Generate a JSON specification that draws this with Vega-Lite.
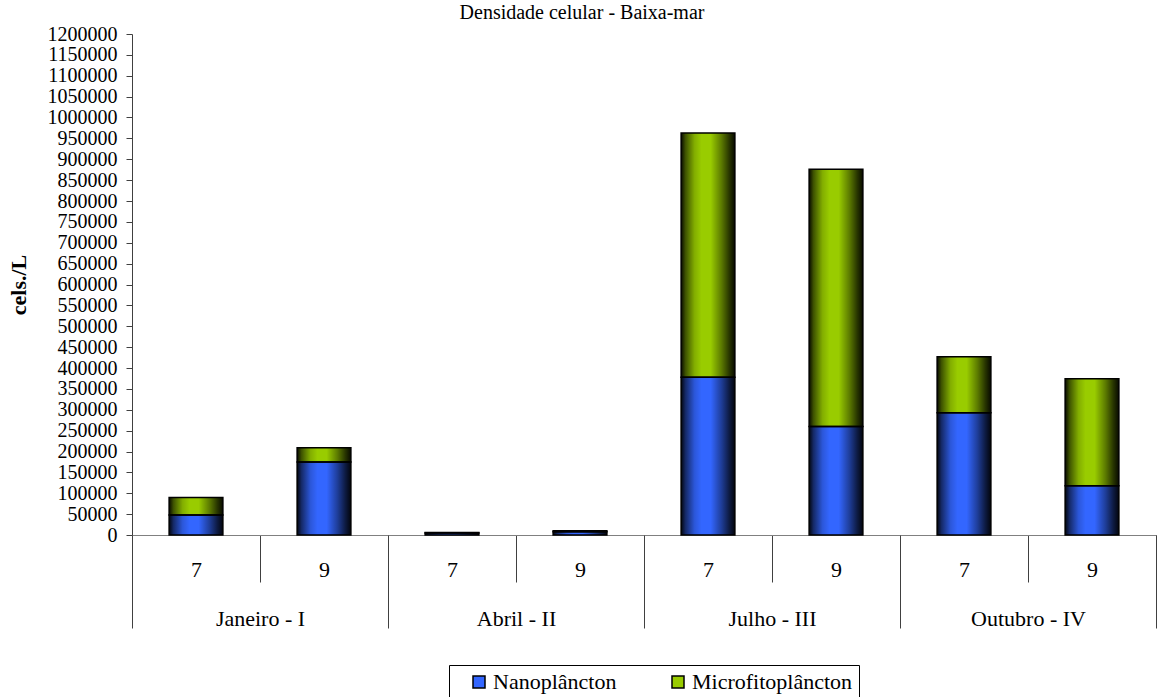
{
  "$schema": "https://vega.github.io/schema/vega-lite/v6.json",
  "width": 1024,
  "height": 501,
  "autosize": {"type": "none"},
  "padding": {"left": 132, "top": 34, "right": 1, "bottom": 162},
  "background": "white",
  "config": {
    "font": "Times New Roman, Liberation Serif, serif",
    "view": {"stroke": null},
    "axis": {"labelFont": "Times New Roman, Liberation Serif, serif", "titleFont": "Times New Roman, Liberation Serif, serif", "labelColor": "black", "titleColor": "black", "grid": false},
    "legend": {"labelFont": "Times New Roman, Liberation Serif, serif", "titleFont": "Times New Roman, Liberation Serif, serif", "labelColor": "black"}
  },
  "title": {"text": "Densidade celular - Baixa-mar", "font": "Times New Roman, Liberation Serif, serif", "fontSize": 20, "fontWeight": "normal", "color": "black", "dx": -62, "offset": 1},
  "data": {
    "values": [
      {"key": "Janeiro - I/7", "month": "Janeiro - I", "series": "Nanoplâncton", "value": 48000},
      {"key": "Janeiro - I/7", "month": "Janeiro - I", "series": "Microfitoplâncton", "value": 42000},
      {"key": "Janeiro - I/9", "month": "Janeiro - I", "series": "Nanoplâncton", "value": 175000},
      {"key": "Janeiro - I/9", "month": "Janeiro - I", "series": "Microfitoplâncton", "value": 34000},
      {"key": "Abril - II/7", "month": "Abril - II", "series": "Nanoplâncton", "value": 5000},
      {"key": "Abril - II/7", "month": "Abril - II", "series": "Microfitoplâncton", "value": 1000},
      {"key": "Abril - II/9", "month": "Abril - II", "series": "Nanoplâncton", "value": 8000},
      {"key": "Abril - II/9", "month": "Abril - II", "series": "Microfitoplâncton", "value": 2000},
      {"key": "Julho - III/7", "month": "Julho - III", "series": "Nanoplâncton", "value": 378000},
      {"key": "Julho - III/7", "month": "Julho - III", "series": "Microfitoplâncton", "value": 585000},
      {"key": "Julho - III/9", "month": "Julho - III", "series": "Nanoplâncton", "value": 260000},
      {"key": "Julho - III/9", "month": "Julho - III", "series": "Microfitoplâncton", "value": 616000},
      {"key": "Outubro - IV/7", "month": "Outubro - IV", "series": "Nanoplâncton", "value": 293000},
      {"key": "Outubro - IV/7", "month": "Outubro - IV", "series": "Microfitoplâncton", "value": 134000},
      {"key": "Outubro - IV/9", "month": "Outubro - IV", "series": "Nanoplâncton", "value": 118000},
      {"key": "Outubro - IV/9", "month": "Outubro - IV", "series": "Microfitoplâncton", "value": 256000}
    ]
  },
  "layer": [
    {
      "encoding": {
        "x": {
          "field": "key", "type": "nominal", "sort": null,
          "scale": {"paddingInner": 0, "paddingOuter": 0},
          "axis": {
            "title": null,
            "labelExpr": "split(datum.value, '/')[1]",
            "tickBand": "extent",
            "tickSize": 47,
            "labelFontSize": 22,
            "labelPadding": -13,
            "labelBaseline": "middle",
            "labelAngle": 0,
            "labelOverlap": false,
            "domainColor": "#808080",
            "tickColor": "#404040"
          }
        },
        "y": {
          "field": "value", "type": "quantitative", "stack": "zero",
          "scale": {"domain": [0, 1200000], "nice": false},
          "axis": {
            "title": "cels./L",
            "values": [0, 50000, 100000, 150000, 200000, 250000, 300000, 350000, 400000, 450000, 500000, 550000, 600000, 650000, 700000, 750000, 800000, 850000, 900000, 950000, 1000000, 1050000, 1100000, 1150000, 1200000],
            "format": "d",
            "labelFontSize": 20,
            "labelOverlap": false,
            "tickSize": 6,
            "labelPadding": 9,
            "titleFontSize": 22,
            "titleFontWeight": "bold",
            "titlePadding": 17,
            "domainColor": "#404040",
            "tickColor": "#404040"
          }
        },
        "order": {"field": "series", "sort": "descending"}
      },
      "layer": [
        {
          "mark": {"type": "bar", "width": {"band": 0.42}},
          "encoding": {
            "color": {
              "field": "series", "type": "nominal",
              "scale": {"domain": ["Nanoplâncton", "Microfitoplâncton"], "range": ["#3366FF", "#99CC00"]},
              "legend": {
                "title": " ",
                "titleOrient": "left",
                "titleFontSize": 20,
                "titlePadding": 13,
                "orient": "none",
                "legendX": 317,
                "legendY": 631,
                "direction": "horizontal",
                "labelFontSize": 22,
                "labelLimit": 400,
                "symbolType": "square",
                "symbolSize": 144,
                "symbolStrokeColor": "black",
                "symbolStrokeWidth": 1.5,
                "symbolOpacity": 1,
                "strokeColor": "black",
                "fillColor": "white",
                "padding": 6,
                "columnPadding": 50,
                "labelOffset": 3
              }
            }
          }
        },
        {
          "mark": {
            "type": "bar",
            "width": {"band": 0.42},
            "stroke": "black",
            "strokeWidth": 1.5,
            "fill": {
              "gradient": "linear", "x1": 0, "y1": 0, "x2": 1, "y2": 0,
              "stops": [
                {"offset": 0, "color": "rgba(0,0,0,0.95)"},
                {"offset": 0.08, "color": "rgba(0,0,0,0.6)"},
                {"offset": 0.25, "color": "rgba(0,0,0,0.15)"},
                {"offset": 0.38, "color": "rgba(0,0,0,0)"},
                {"offset": 0.55, "color": "rgba(0,0,0,0)"},
                {"offset": 0.75, "color": "rgba(0,0,0,0.4)"},
                {"offset": 0.9, "color": "rgba(0,0,0,0.75)"},
                {"offset": 1, "color": "rgba(0,0,0,0.95)"}
              ]
            }
          },
          "encoding": {
            "detail": {"field": "series"}
          }
        }
      ]
    },
    {
      "mark": {"type": "text", "text": ""},
      "encoding": {
        "x": {
          "field": "month", "type": "nominal", "sort": null,
          "scale": {"type": "band", "paddingInner": 0, "paddingOuter": 0},
          "axis": {
            "orient": "bottom",
            "title": null,
            "tickBand": "extent",
            "tickSize": 93,
            "labelFontSize": 22,
            "labelPadding": -10,
            "labelBaseline": "middle",
            "labelAngle": 0,
            "domain": false,
            "tickColor": "#404040"
          }
        }
      }
    }
  ],
  "resolve": {"scale": {"x": "independent"}, "axis": {"x": "independent"}}
}
